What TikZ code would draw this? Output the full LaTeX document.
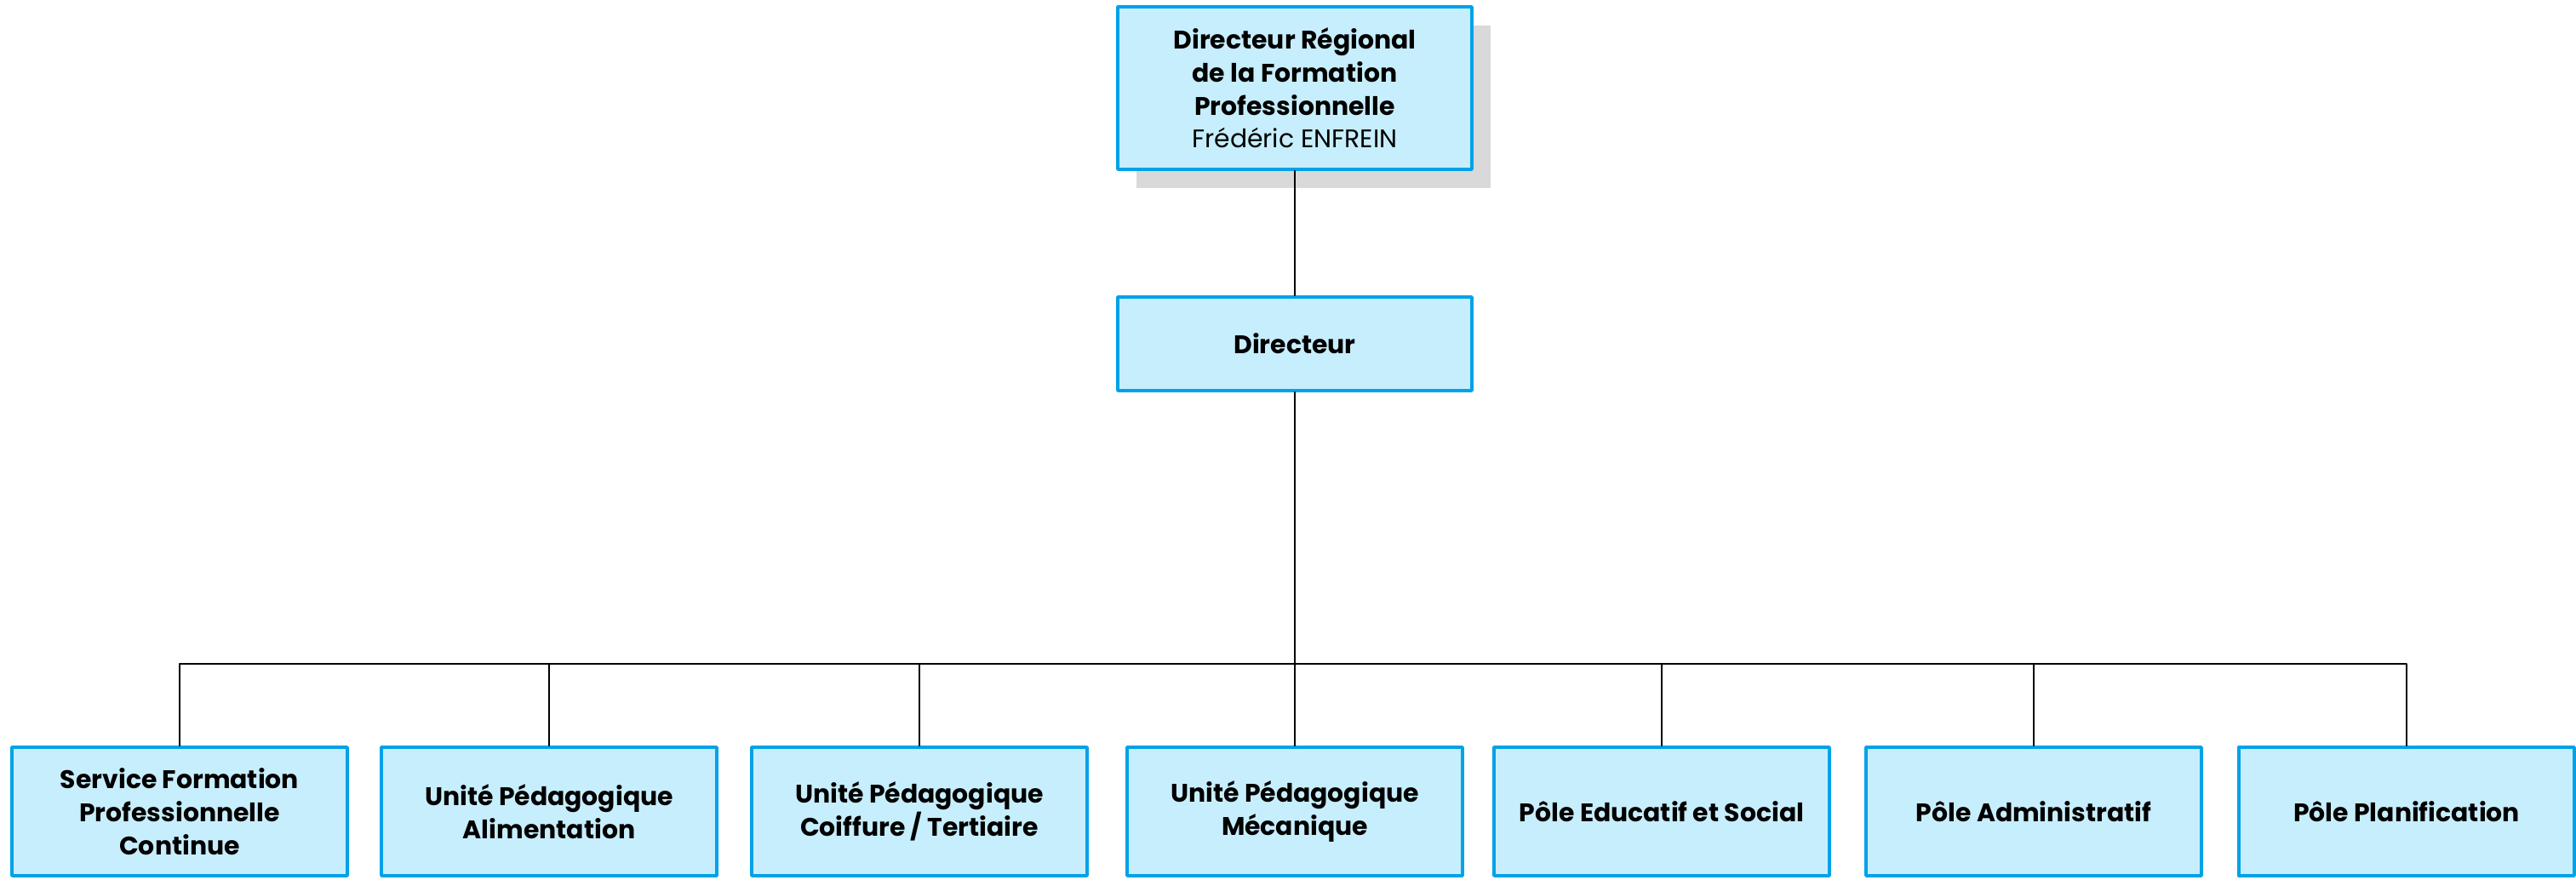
\documentclass[tikz,border=0pt]{standalone}
\usepackage{fontspec}
\setmainfont{Poppins}
\usetikzlibrary{shadows}
\definecolor{boxfill}{RGB}{199,238,252}
\definecolor{boxline}{RGB}{0,162,232}
\definecolor{shadowgray}{RGB}{217,217,217}
\tikzset{
	orgbox/.style={draw=boxline, fill=boxfill, line width=1pt, align=center, inner sep=0pt, font=\fontsize{8.5}{11}\selectfont},
	unitbox/.style={orgbox, minimum width=3.94cm, minimum height=1.51cm, font=\fontsize{8.5}{11}\selectfont\bfseries},
}
\begin{document}
\begin{tikzpicture}[line join=round, line cap=round, line width=.5pt]
		\useasboundingbox (0,0) rectangle (30.26,-10.33);
		\def\ytop{-1.035} \def\ydir{-4.04} \def\ybus{-7.80} \def\yunit{-9.535}
		\node[orgbox, minimum width=4.16cm, minimum height=1.91cm, drop shadow={shadow xshift=.22cm, shadow yshift=-.22cm, fill=shadowgray, opacity=1}] (drfp) at (15.21,\ytop) {\textbf{Directeur Régional}\\\textbf{de la Formation}\\\textbf{Professionnelle}\\Frédéric ENFREIN};
		\node[orgbox, minimum width=4.16cm, minimum height=1.10cm] (dir) at (15.21,\ydir) {\textbf{Directeur}};
		\coordinate (bus) at (15.21,\ybus);
		\draw (drfp) -- (dir) (dir) -- (bus);
		% services et poles
		\foreach \n/\x/\t in {sfpc/2.11/{Service Formation\\Professionnelle\\Continue}, upa/6.45/{Unité Pédagogique\\Alimentation}, upct/10.80/{Unité Pédagogique\\Coiffure / Tertiaire}, upm/15.21/{Unité Pédagogique\\Mécanique}, pes/19.52/{Pôle Educatif et Social}, padm/23.89/{Pôle Administratif}, pplan/28.27/{Pôle Planification}}{
			\node[unitbox] (\n) at (\x,\yunit) {\t};
			\draw (bus) -| (\n);
		}
\end{tikzpicture}
\end{document}
